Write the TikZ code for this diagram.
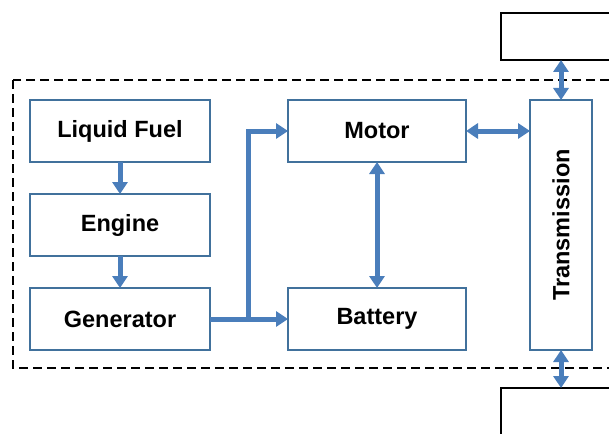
\documentclass[tikz,border=0pt]{standalone}
\usepackage{fontspec}
\setmainfont{Liberation Sans}
\usetikzlibrary{positioning,arrows.meta,calc}
\definecolor{boxline}{HTML}{41719C}
\definecolor{arrblue}{HTML}{4A7EBB}
\begin{document}
\begin{tikzpicture}[
          x=1pt, y=1pt,
          node distance=32pt and 78pt,
          box/.style={draw=boxline, line width=2pt, outer sep=0pt, minimum width=180pt, minimum height=62pt, align=center, fill=white, font=\fontsize{23.5}{26}\selectfont\bfseries},
          outbox/.style={draw=black, line width=2.5pt, outer sep=0pt, minimum width=140pt, minimum height=47pt, fill=white},
          arr/.style={-{Triangle[width=15pt,length=12pt]}, line width=5pt, draw=arrblue},
          darr/.style={{Triangle[width=15pt,length=12pt]}-{Triangle[width=15pt,length=12pt]}, line width=5pt, draw=arrblue}
      ]
        \useasboundingbox (0,0) rectangle (609,-433);
        \clip (0,0) rectangle (609,-433);
        \draw[black, line width=2.5pt, dash pattern=on 9pt off 5pt] (13,-80) rectangle (660,-368);
        \node[box, anchor=north west] (fuel) at (30,-100) {Liquid Fuel};
        \node[box, below=of fuel] (engine) {Engine};
        \node[box, below=of engine] (gen) {Generator};
        \node[box, minimum width=178pt, right=of fuel] (motor) {Motor};
        \node[box, minimum width=178pt, right=of gen] (battery) {Battery};
        \node[box, minimum width=250pt, minimum height=62pt, rotate=90, anchor=north west] (trans) at ([xshift=64pt]battery.south east) {Transmission};
        \node[outbox, anchor=south west] (wheelup) at (501,-60) {};
        \node[outbox, anchor=north west] (wheeldown) at (501,-388) {};
        \coordinate (split) at ($(gen.east)!0.49!(battery.west)$);
        \draw[arr] (fuel) -- (engine);
        \draw[arr] (engine) -- (gen);
        \draw[arr] (gen.east) -- (battery.west);
        \draw[arr] (split) |- (motor.west);
        \draw[darr] (motor) -- (battery);
        \draw[darr] (motor.east) -- (motor.east -| trans.north);
        \draw[darr] (trans.east) -- (trans.east |- wheelup.south);
        \draw[darr] (trans.west) -- (trans.west |- wheeldown.north);
      \end{tikzpicture}
\end{document}
